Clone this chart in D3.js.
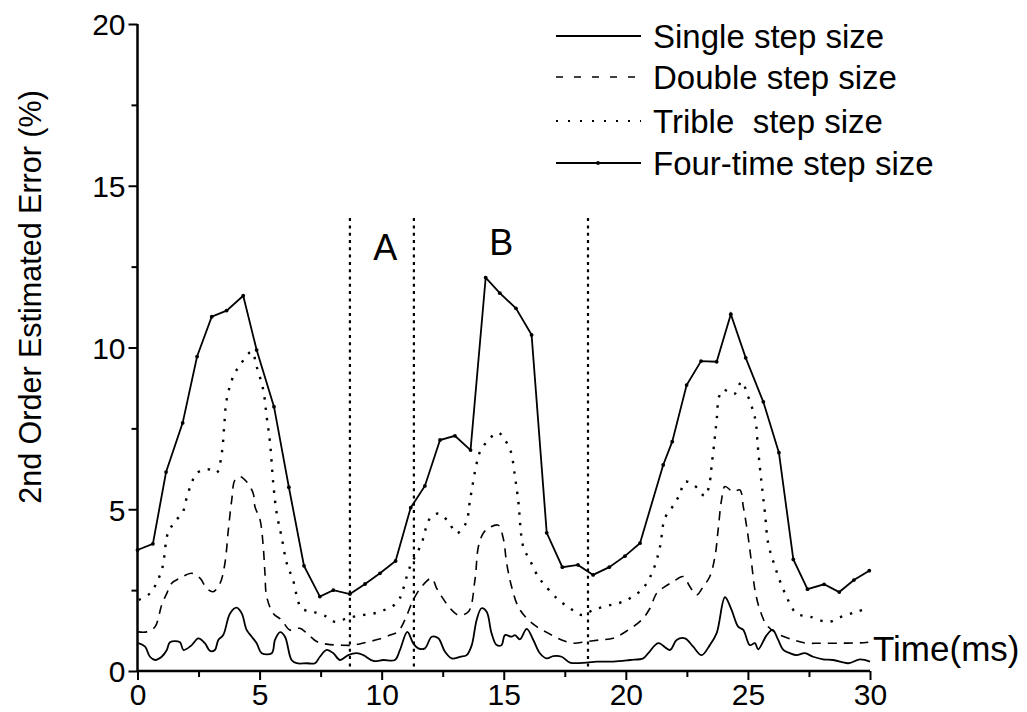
<!DOCTYPE html>
<html>
<head>
<meta charset="utf-8">
<script src="https://cdn.jsdelivr.net/npm/d3@7/dist/d3.min.js"></script>
<style>
  html, body { margin: 0; padding: 0; background: #fff; }
  svg { display: block; }
  text { font-family: "Liberation Sans", Arial, Helvetica, sans-serif; fill: #000; }
</style>
</head>
<body>
<svg id="chart" width="1027" height="712"></svg>
<script>
// ---------------- DATA ----------------
const xMajorTicks = [0, 5, 10, 15, 20, 25, 30];
const xMinorTicks = [2.5, 7.5, 12.5, 17.5, 22.5, 27.5];
const yMajorTicks = [0, 5, 10, 15, 20];
const yMinorTicks = [2.5, 7.5, 12.5, 17.5];

const seriesNames = ["Single step size", "Double step size", "Trible  step size", "Four-time step size"];

// Single step size (solid, bottom)
const singleX = [0.03,0.31,0.51,0.72,0.99,1.20,1.33,1.74,1.88,2.22,2.49,2.76,2.97,3.17,3.31,3.51,3.79,4.06,4.27,4.47,4.68,4.88,5.09,5.50,5.63,5.84,6.04,6.31,6.52,6.93,7.27,7.47,7.75,8.02,8.29,8.63,8.98,9.25,9.66,10.07,10.54,10.75,11.05,11.29,11.50,11.77,12.05,12.32,12.59,12.87,13.21,13.48,13.69,13.89,14.09,14.30,14.50,14.71,14.91,15.05,15.32,15.46,15.66,15.94,16.21,16.48,16.76,17.03,17.37,17.71,18.39,18.80,19.48,20.17,20.71,20.92,21.33,21.81,22.08,22.42,22.76,23.10,23.44,23.72,24.06,24.33,24.60,24.81,25.08,25.29,25.42,25.77,26.01,26.24,26.45,26.72,26.99,27.33,27.67,28.08,28.49,29.11,29.59,30.00];
const singleY = [0.86,0.75,0.44,0.34,0.44,0.65,0.89,0.89,0.65,0.80,1.01,0.86,0.62,0.65,0.96,1.11,1.78,1.96,1.78,1.27,1.06,0.86,0.55,0.55,0.96,1.20,1.06,0.34,0.24,0.24,0.24,0.44,0.65,0.55,0.34,0.49,0.55,0.49,0.31,0.34,0.34,0.65,1.21,0.86,0.70,0.70,1.06,1.01,0.60,0.39,0.44,0.49,0.80,1.58,1.94,1.83,1.17,0.80,0.80,1.11,1.06,1.11,0.98,1.30,0.96,0.55,0.39,0.46,0.44,0.26,0.26,0.29,0.29,0.34,0.39,0.55,0.86,0.65,0.96,1.01,0.75,0.49,0.80,1.17,2.28,1.89,1.37,1.27,0.80,0.86,0.67,1.11,1.27,0.96,0.65,0.55,0.49,0.55,0.44,0.36,0.34,0.24,0.36,0.29];

// Double step size (dashed)
const doubleX = [0.03,0.38,0.72,0.99,1.20,1.40,1.74,2.22,2.56,2.83,3.10,3.38,3.58,3.72,3.86,3.99,4.20,4.47,4.74,4.81,5.02,5.15,5.22,5.29,5.56,5.90,6.24,6.65,6.93,7.34,7.75,8.29,8.84,9.39,9.86,10.34,10.66,10.95,11.29,11.64,12.05,12.25,12.46,12.80,13.14,13.55,13.82,13.96,14.16,14.37,14.77,14.98,15.12,15.32,15.59,15.94,16.35,16.82,17.37,17.85,18.39,18.94,19.48,20.10,20.65,20.99,21.26,21.60,21.94,22.35,22.62,22.90,23.17,23.44,23.65,23.78,23.92,24.06,24.40,24.67,24.81,24.97,25.15,25.29,25.49,25.77,26.17,26.86,27.40,27.95,28.77,29.59,29.93];
const doubleY = [1.21,1.21,1.37,2.04,2.40,2.71,2.87,3.02,2.87,2.56,2.45,2.71,3.33,4.36,5.29,5.90,6.01,5.85,5.49,5.08,4.67,3.84,3.02,2.30,1.78,1.58,1.27,1.32,1.17,0.91,0.83,0.80,0.80,0.89,0.98,1.11,1.21,1.58,2.19,2.61,2.87,2.56,2.30,1.94,1.73,1.83,2.81,3.84,4.26,4.41,4.51,4.10,3.33,2.61,1.99,1.63,1.37,1.17,0.96,0.86,0.91,0.96,1.01,1.27,1.58,1.94,2.40,2.61,2.76,2.92,2.61,2.35,2.61,2.92,3.53,4.36,5.29,5.70,5.54,5.60,5.08,4.36,3.33,2.50,1.89,1.42,1.17,0.96,0.86,0.86,0.86,0.87,0.89];

// Trible step size (dotted)
const tribleX = [0.05,0.51,0.99,1.25,1.54,1.86,2.01,2.19,2.42,2.86,3.24,3.45,3.55,3.65,3.92,4.20,4.68,4.88,5.15,5.29,5.43,5.56,5.70,5.90,6.11,6.37,6.72,7.19,7.75,8.09,8.62,9.23,9.80,10.26,10.66,11.16,11.64,11.77,11.98,12.32,12.73,13.07,13.45,13.62,13.89,14.03,14.37,14.77,15.05,15.29,15.46,15.59,15.80,16.07,16.41,16.62,17.17,17.71,18.19,18.67,19.21,19.76,20.17,20.71,21.12,21.40,21.60,22.01,22.22,22.42,22.79,23.24,23.45,23.51,23.62,23.72,23.82,23.99,24.44,24.74,25.01,25.22,25.33,25.40,25.46,25.56,25.70,25.83,26.11,26.52,26.99,27.54,28.29,28.84,29.45,29.93];
const tribleY = [2.20,2.40,3.12,4.27,4.62,4.92,5.34,5.75,6.11,6.24,6.13,6.73,7.55,8.38,9.10,9.46,9.87,9.41,8.69,7.86,7.04,5.80,4.88,4.15,3.34,2.81,1.94,1.83,1.68,1.52,1.64,1.73,1.80,1.94,2.14,3.22,3.95,4.31,4.72,4.87,4.62,4.26,4.57,5.29,6.42,6.78,7.14,7.37,7.14,6.78,6.01,5.29,3.84,3.43,2.91,2.71,2.25,1.94,1.73,1.89,2.01,2.11,2.25,2.56,3.12,3.84,4.72,5.18,5.49,5.85,5.75,5.41,5.90,6.32,7.04,7.76,8.48,8.69,8.56,8.94,8.48,8.02,7.66,6.99,6.52,5.80,4.87,3.95,3.22,2.40,1.78,1.68,1.52,1.68,1.83,1.94];

// Four-time step size (solid with dot markers, top)
const fourX = [0.00,0.63,1.17,1.85,2.44,3.04,3.65,4.33,4.88,5.59,6.20,6.82,7.47,8.02,8.70,9.32,9.93,10.57,11.19,11.77,12.39,13.00,13.64,14.26,14.84,15.50,16.14,16.76,17.40,18.04,18.66,19.32,19.96,20.58,21.53,21.90,22.49,23.08,23.72,24.30,24.91,25.63,26.27,26.86,27.44,28.12,28.74,29.34,29.97];
const fourY = [3.74,3.93,6.15,7.67,9.72,10.95,11.14,11.60,9.92,8.17,5.68,3.25,2.30,2.50,2.38,2.69,3.02,3.40,5.05,5.72,7.14,7.27,6.83,12.16,11.68,11.21,10.39,4.27,3.21,3.28,2.97,3.21,3.55,3.95,6.37,7.09,8.84,9.58,9.56,11.03,9.68,8.32,6.75,3.45,2.53,2.68,2.44,2.81,3.10];

// Vertical region markers and labels
const markerX = [8.70, 11.32, 18.45];
const markerTop = 14.0;
const regionLabels = ["A", "B"];
const regionLabelX = [10.15, 14.9];
const regionLabelY = [12.7, 12.85];

const xTitle = "Time(ms)";
const yTitle = "2nd Order Estimated Error (%)";

// ---------------- DRAW ----------------
const svg = d3.select("#chart");
const x = d3.scaleLinear().domain([0, 30]).range([137.5, 870]);
const y = d3.scaleLinear().domain([0, 20]).range([671, 24]);

const zip = (xs, ys) => xs.map((v, i) => [v, ys[i]]);
const smooth = d3.line().x(d => x(d[0])).y(d => y(d[1])).curve(d3.curveCatmullRom.alpha(0.5));
const straight = d3.line().x(d => x(d[0])).y(d => y(d[1]));

// vertical dotted markers
svg.append("g").selectAll("line").data(markerX).join("line")
  .attr("x1", d => x(d)).attr("x2", d => x(d))
  .attr("y1", y(markerTop)).attr("y2", y(0))
  .attr("stroke", "#000").attr("stroke-width", 2.2)
  .attr("stroke-dasharray", "3,4.3");

// series
svg.append("path").attr("d", smooth(zip(singleX, singleY)))
  .attr("fill", "none").attr("stroke", "#000").attr("stroke-width", 1.8);
svg.append("path").attr("d", smooth(zip(doubleX, doubleY)))
  .attr("fill", "none").attr("stroke", "#000").attr("stroke-width", 1.6)
  .attr("stroke-dasharray", "9,7");
svg.append("path").attr("d", smooth(zip(tribleX, tribleY)))
  .attr("fill", "none").attr("stroke", "#000").attr("stroke-width", 2.4)
  .attr("stroke-dasharray", "2.4,8");
svg.append("path").attr("d", straight(zip(fourX, fourY)))
  .attr("fill", "none").attr("stroke", "#000").attr("stroke-width", 1.8);
svg.append("g").selectAll("circle").data(zip(fourX, fourY)).join("circle")
  .attr("cx", d => x(d[0])).attr("cy", d => y(d[1])).attr("r", 1.9).attr("fill", "#000");

// axes
const font = '"Liberation Sans", Arial, Helvetica, sans-serif';
const gx = svg.append("g").attr("transform", `translate(0,${y(0)})`)
  .call(d3.axisBottom(x).tickValues(xMajorTicks).tickSize(9).tickPadding(4).tickFormat(d3.format("d")));
const gxm = svg.append("g").attr("transform", `translate(0,${y(0)})`)
  .call(d3.axisBottom(x).tickValues(xMinorTicks).tickSize(6).tickFormat(""));
gxm.select(".domain").remove();
const gy = svg.append("g").attr("transform", `translate(${x(0)},0)`)
  .call(d3.axisLeft(y).tickValues(yMajorTicks).tickSize(9).tickPadding(3).tickFormat(d3.format("d")));
const gym = svg.append("g").attr("transform", `translate(${x(0)},0)`)
  .call(d3.axisLeft(y).tickValues(yMinorTicks).tickSize(6).tickFormat(""));
gym.select(".domain").remove();

[gx, gy].forEach(g => {
  g.select(".domain").attr("stroke-width", 2.5).attr("d",
    g === gx ? `M${x(0)},0H${x(30)}` : `M0,${y(0)}V${y(20)}`);
  g.selectAll("text").attr("font-family", font).attr("font-size", 30).attr("fill", "#000");
});
[gx, gy, gxm, gym].forEach(g => g.selectAll(".tick line").attr("stroke-width", 2));
gx.selectAll("text").attr("dy", "0.71em");
gy.selectAll("text").attr("dy", "0.36em");

// axis titles
svg.append("text").attr("transform", `translate(41,297) rotate(-90)`)
  .attr("text-anchor", "middle").attr("font-size", 30.5).text(yTitle);
svg.append("text").attr("x", 873).attr("y", 661).attr("font-size", 35).text(xTitle);

// region labels
svg.append("g").selectAll("text").data(regionLabels).join("text")
  .attr("x", (d, i) => x(regionLabelX[i])).attr("y", (d, i) => y(regionLabelY[i]))
  .attr("text-anchor", "middle").attr("font-size", 36).text(d => d);

// legend
const legendRowsY = [36, 77, 121, 163];
const legendStyles = [
  { dash: null, w: 1.8 },
  { dash: "7,11", w: 1.6 },
  { dash: "2,10", w: 2 },
  { dash: null, w: 1.8, marker: true }
];
const lg = svg.append("g");
seriesNames.forEach((name, i) => {
  const yy = legendRowsY[i];
  const st = legendStyles[i];
  const ln = lg.append("line").attr("x1", 556).attr("x2", 641).attr("y1", yy).attr("y2", yy)
    .attr("stroke", "#000").attr("stroke-width", st.w);
  if (st.dash) ln.attr("stroke-dasharray", st.dash);
  if (st.marker) lg.append("circle").attr("cx", 598).attr("cy", yy).attr("r", 1.9).attr("fill", "#000");
  lg.append("text").attr("x", 653).attr("y", yy + 12).attr("font-size", 33)
    .attr("xml:space", "preserve").style("white-space", "pre").text(name);
});
</script>
</body>
</html>
